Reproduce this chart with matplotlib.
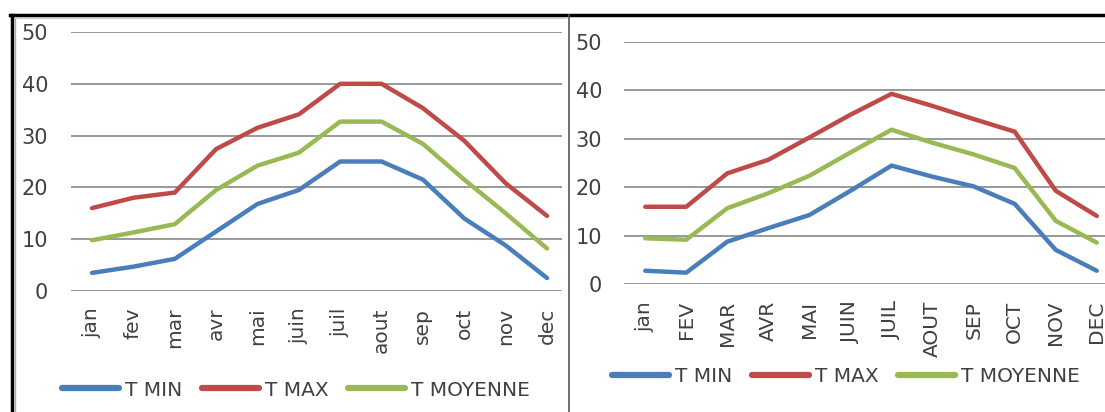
import matplotlib.pyplot as plt
from matplotlib.lines import Line2D

plt.rcParams['font.family'] = ['DejaVu Sans']

mois_g = ["jan", "fev", "mar", "avr", "mai", "juin", "juil", "aout", "sep", "oct", "nov", "dec"]
mois_d = ["jan", "FEV", "MAR", "AVR", "MAI", "JUIN", "JUIL", "AOUT", "SEP", "OCT", "NOV", "DEC"]

tmin_g = [3.5, 4.7, 6.2, 11.5, 16.8, 19.5, 25.0, 25.0, 21.5, 14.0, 8.8, 2.5]
tmax_g = [16.0, 18.0, 19.0, 27.4, 31.5, 34.1, 40.0, 40.0, 35.3, 29.0, 20.8, 14.5]
tmoy_g = [9.8, 11.3, 12.9, 19.5, 24.2, 26.7, 32.7, 32.7, 28.4, 21.5, 15.0, 8.2]

tmin_d = [2.8, 2.4, 8.8, 11.6, 14.3, 19.3, 24.5, 22.2, 20.2, 16.6, 7.1, 2.8]
tmax_d = [16.0, 16.0, 22.9, 25.7, 30.3, 35.0, 39.3, 36.8, 34.1, 31.5, 19.3, 14.1]
tmoy_d = [9.5, 9.2, 15.7, 18.8, 22.4, 27.2, 31.9, 29.2, 26.8, 24.0, 13.1, 8.6]

series = ["T MIN", "T MAX", "T MOYENNE"]
couleurs = ["#4A7EBB", "#BE4B48", "#98B954"]
texte = "#404040"

W, H = 1105, 412
fig = plt.figure(figsize=(W / 100, H / 100), dpi=100)


def graphe(rect, mois, valeurs, xlim, leg_pos):
    ax = fig.add_axes(rect)
    for v, c, nom in zip(valeurs, couleurs, series):
        ax.plot(range(len(mois)), v, color=c, lw=3.2, label=nom,
                solid_capstyle="round", solid_joinstyle="round")
    ax.set_ylim(0, 50)
    ax.set_xlim(*xlim)
    ax.set_yticks(range(0, 51, 10))
    ax.set_xticks(range(len(mois)))
    ax.set_xticklabels(mois, rotation=90, ha="center", va="top")
    ax.grid(axis="y", color="#888888", lw=1.2)
    ax.set_axisbelow(True)
    for s in ax.spines.values():
        s.set_visible(False)
    ax.tick_params(length=0, colors=texte)
    ax.tick_params(axis="y", pad=16, labelsize=15)
    ax.tick_params(axis="x", pad=12, labelsize=14.5)
    leg = fig.legend(*ax.get_legend_handles_labels(), loc="center",
                     bbox_to_anchor=leg_pos, ncol=3, frameon=False,
                     fontsize=14.5, handlelength=2.8, handletextpad=0.3,
                     columnspacing=1.0, labelcolor=texte)
    for h in leg.legend_handles:
        h.set_linewidth(4.5)
    return ax


graphe([70.5 / W, 1 - 291 / H, 491 / W, 259 / H], mois_g,
       [tmin_g, tmax_g, tmoy_g], (-0.52, 11.35), (296 / W, 1 - 390 / H))
graphe([624.3 / W, 1 - 284.3 / H, 480.7 / W, 242.3 / H], mois_d,
       [tmin_d, tmax_d, tmoy_d], (-0.51, 11.2), (846 / W, 1 - 377 / H))

# cadres
fig.add_artist(Line2D([10 / W, 1], [1 - 15 / H, 1 - 15 / H], color="black", lw=2.5))
fig.add_artist(Line2D([11.5 / W, 11.5 / W], [0, 1 - 15 / H], color="black", lw=2.5))
fig.add_artist(Line2D([15 / W, 15 / W], [0, 1 - 17 / H], color="#AAAAAA", lw=1))
fig.add_artist(Line2D([15 / W, 566 / W], [1 - 17.5 / H, 1 - 17.5 / H], color="#CCCCCC", lw=0.8))
fig.add_artist(Line2D([568.5 / W, 568.5 / W], [0, 1 - 15 / H], color="#555555", lw=1.2))

fig.savefig("out.png", dpi=100, facecolor="white")
